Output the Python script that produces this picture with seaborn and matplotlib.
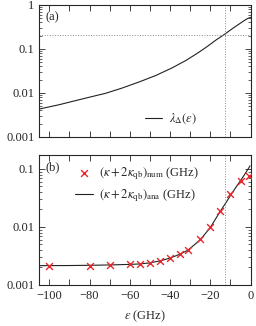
import numpy as np
import matplotlib
matplotlib.use("Agg")
import matplotlib.pyplot as plt
import matplotlib.ticker as mticker
import pandas as pd
import seaborn as sns

# panel (a): lambda_Delta(eps)
eps_a = [-105, -95, -88, -80, -72, -64, -55, -47, -39, -32, -25.5, -21, -17.3, -13, -9, -6, -3.5, -1.5, 0]
lam_a = [0.0043, 0.0054, 0.0065, 0.0080, 0.0098, 0.0128, 0.018, 0.025, 0.037, 0.055, 0.085, 0.118, 0.158, 0.214, 0.29, 0.36, 0.43, 0.49, 0.52]

# panel (b): numerical points and analytic curve
eps_num = [-100, -80, -70, -60, -55, -50, -45, -40, -35, -31, -25, -20, -15, -10, -5, -1]
kap_num = [0.0021, 0.0021, 0.0022, 0.00227, 0.0023, 0.0024, 0.0026, 0.0029, 0.0034, 0.0040, 0.0061, 0.0099, 0.0186, 0.0366, 0.062, 0.077]

eps_ana = [-105, -90, -80, -70, -60, -55, -50, -45, -40, -35, -31, -25, -20, -15, -12, -10, -7, -5, -3, -1, -0.3]
kap_ana = [0.00215, 0.00216, 0.00218, 0.00221, 0.00226, 0.0023, 0.0024, 0.0026, 0.0029, 0.0034, 0.0040, 0.0060, 0.0098, 0.0188, 0.027, 0.035, 0.050, 0.063, 0.080, 0.103, 0.113]

eps_mark = -12.5
lam_mark = 0.21

sns.set_style("ticks")
plt.rcParams['font.family'] = ['Liberation Serif', 'DejaVu Serif']
plt.rcParams['mathtext.fontset'] = 'stix'
plt.rcParams['font.size'] = 9
plt.rcParams['axes.unicode_minus'] = True

fig = plt.figure(figsize=(2.56, 3.26), dpi=100)
ax1 = fig.add_axes([0.153, 0.580, 0.826, 0.405])
ax2 = fig.add_axes([0.153, 0.126, 0.826, 0.399])

dfa = pd.DataFrame({"eps": eps_a, "lam": lam_a})
sns.lineplot(data=dfa, x="eps", y="lam", ax=ax1, color="#222222", lw=0.8,
             label=r"$\lambda_\Delta(\varepsilon)$")
ax1.axhline(lam_mark, color="#888888", ls=":", lw=0.7)
ax1.axvline(eps_mark, color="#888888", ls=":", lw=0.7)

dfn = pd.DataFrame({"eps": eps_num, "k": kap_num})
dfb = pd.DataFrame({"eps": eps_ana, "k": kap_ana})
sns.scatterplot(data=dfn, x="eps", y="k", ax=ax2, marker="x", color="#e8262b",
                s=24, linewidth=1.0, zorder=3,
                label=r"$(\kappa + 2\kappa_{\rm qb})_{\rm num}$ (GHz)")
sns.lineplot(data=dfb, x="eps", y="k", ax=ax2, color="#222222", lw=0.8,
             label=r"$(\kappa + 2\kappa_{\rm qb})_{\rm ana}$ (GHz)")
ax2.axvline(eps_mark, color="#888888", ls=":", lw=0.7)

for ax in (ax1, ax2):
    ax.set_yscale("log")
    ax.set_xlim(-105, 0)
    ax.xaxis.set_major_locator(mticker.MultipleLocator(20))
    ax.xaxis.set_minor_locator(mticker.MultipleLocator(10))
    ax.yaxis.set_major_locator(mticker.LogLocator(base=10))
    ax.yaxis.set_minor_locator(mticker.LogLocator(base=10, subs=np.arange(2, 10)))
    ax.yaxis.set_minor_formatter(mticker.NullFormatter())
    ax.tick_params(which="both", direction="in", top=True, right=True, labelsize=9)
    ax.tick_params(which="major", length=4, width=0.6)
    ax.tick_params(axis="x", which="minor", length=4, width=0.6)
    ax.tick_params(axis="y", which="minor", length=2, width=0.5)
    ax.set_ylabel("")
    for s in ax.spines.values():
        s.set_linewidth(0.8)
    ax.yaxis.set_major_formatter(mticker.FuncFormatter(lambda v, p: "%g" % v))

ax1.set_ylim(0.001, 1)
ax1.set_xlabel("")
ax1.tick_params(labelbottom=False)
ax1.text(0.03, 0.95, "(a)", transform=ax1.transAxes, va="top", ha="left", fontsize=9)
ax1.legend(loc="lower left", bbox_to_anchor=(0.5, 0.08), frameon=False, fontsize=9,
           handlelength=1.4, handletextpad=0.5, borderpad=0, borderaxespad=0)

ax2.set_ylim(0.001, 0.175)
ax2.set_xlabel(r"$\varepsilon$ (GHz)", fontsize=9, labelpad=5)
ax2.text(0.03, 0.95, "(b)", transform=ax2.transAxes, va="top", ha="left", fontsize=9)
ax2.legend(loc="upper left", bbox_to_anchor=(0.17, 0.92), frameon=False, fontsize=9,
           handlelength=1.4, handletextpad=0.5, labelspacing=0.45,
           borderpad=0, borderaxespad=0)

fig.savefig("out.png", dpi=100)
